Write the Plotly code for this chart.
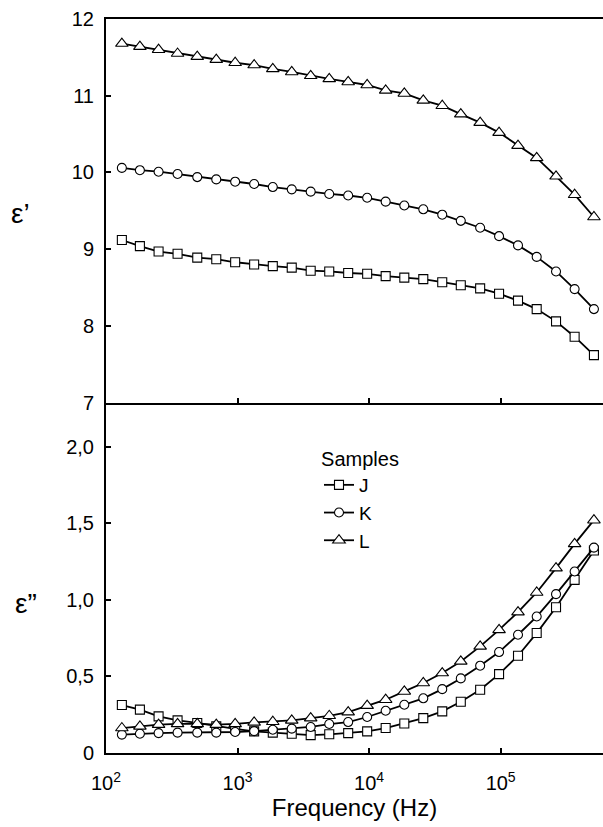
import plotly.graph_objects as go

# Frequencies (Hz)
freq = [132, 181, 251, 350, 494, 689, 959, 1337, 1853, 2582, 3597, 4977, 6934,
        9665, 13364, 18521, 25817, 35974, 49774, 69842, 97273, 135500, 187900,
        263600, 365000, 511700]

samples = ["J", "K", "L"]

# Real part epsilon'
eps1_J = [9.12, 9.04, 8.97, 8.94, 8.89, 8.87, 8.83, 8.80, 8.78, 8.76, 8.72, 8.71, 8.69,
          8.68, 8.65, 8.63, 8.61, 8.57, 8.53, 8.49, 8.42, 8.33, 8.22, 8.06, 7.86, 7.62]
eps1_K = [10.06, 10.03, 10.01, 9.98, 9.94, 9.91, 9.88, 9.85, 9.81, 9.78, 9.75, 9.72, 9.70,
          9.67, 9.62, 9.57, 9.52, 9.45, 9.37, 9.28, 9.17, 9.05, 8.90, 8.71, 8.48, 8.22]
eps1_L = [11.68, 11.64, 11.60, 11.55, 11.51, 11.47, 11.43, 11.40, 11.35, 11.31, 11.26, 11.22, 11.18,
          11.14, 11.07, 11.03, 10.94, 10.87, 10.76, 10.65, 10.52, 10.35, 10.19, 9.95, 9.71, 9.42]

# Imaginary part epsilon''
eps2_J = [0.313, 0.283, 0.239, 0.213, 0.196, 0.174, 0.157, 0.141, 0.133, 0.126, 0.117, 0.122, 0.130,
          0.141, 0.163, 0.193, 0.228, 0.272, 0.335, 0.413, 0.515, 0.635, 0.783, 0.952, 1.130, 1.322]
eps2_K = [0.120, 0.126, 0.130, 0.133, 0.133, 0.133, 0.137, 0.143, 0.152, 0.159, 0.170, 0.189, 0.202,
          0.235, 0.276, 0.315, 0.357, 0.417, 0.487, 0.570, 0.659, 0.772, 0.891, 1.037, 1.185, 1.341]
eps2_L = [0.163, 0.174, 0.185, 0.190, 0.190, 0.185, 0.190, 0.200, 0.204, 0.213, 0.228, 0.243, 0.267,
          0.309, 0.348, 0.402, 0.457, 0.522, 0.598, 0.696, 0.804, 0.920, 1.048, 1.207, 1.365, 1.520]

x_tickvals = [100, 1000, 10000, 100000]
x_ticktext = ["10<sup>2</sup>", "10<sup>3</sup>", "10<sup>4</sup>", "10<sup>5</sup>"]
y1_tickvals = [7, 8, 9, 10, 11, 12]
y2_tickvals = [0, 0.5, 1.0, 1.5, 2.0]
y2_ticktext = ["0", "0,5", "1,0", "1,5", "2,0"]

symbols = {"J": "square", "K": "circle", "L": "triangle-up"}
sizes = {"J": 9, "K": 9, "L": 11}

FONT = "Liberation Sans, Arial, sans-serif"

fig = go.Figure()
top = {"J": eps1_J, "K": eps1_K, "L": eps1_L}
bot = {"J": eps2_J, "K": eps2_K, "L": eps2_L}

for s in samples:
    fig.add_trace(go.Scatter(
        x=freq, y=top[s], mode="lines+markers", name=s, showlegend=False,
        xaxis="x2", yaxis="y2",
        line=dict(color="black", width=1.8),
        marker=dict(symbol=symbols[s], size=sizes[s], color="white",
                    line=dict(color="black", width=1.1)),
    ))
for s in samples:
    fig.add_trace(go.Scatter(
        x=freq, y=bot[s], mode="lines+markers", name=s, showlegend=True,
        xaxis="x", yaxis="y",
        line=dict(color="black", width=1.8),
        marker=dict(symbol=symbols[s], size=sizes[s], color="white",
                    line=dict(color="black", width=1.1)),
    ))

split = (753 - 402.7) / 734.0
xr = [2, 5.778]

axis_common = dict(showline=True, linecolor="black", linewidth=2,
                   ticks="inside", ticklen=5, tickwidth=1.5, tickcolor="black",
                   showgrid=False, zeroline=False,
                   tickfont=dict(family=FONT, size=20, color="black"))

fig.update_layout(
    width=603, height=827,
    margin=dict(l=106, r=0, t=19, b=74),
    paper_bgcolor="white", plot_bgcolor="white",
    font=dict(family=FONT, color="black"),
    xaxis=dict(type="log", range=xr, anchor="y", domain=[0, 1],
               tickvals=x_tickvals, ticktext=x_ticktext, ticklabelstandoff=11,
               title=dict(text="Frequency (Hz)", font=dict(family=FONT, size=24), standoff=2),
               **axis_common),
    xaxis2=dict(type="log", range=xr, anchor="y2", matches="x", domain=[0, 1],
                tickvals=x_tickvals, showticklabels=False, mirror=True,
                **axis_common),
    yaxis=dict(range=[0, 2.287], domain=[0, split], anchor="x",
               tickvals=y2_tickvals, ticktext=y2_ticktext, ticklabelstandoff=6,
               **axis_common),
    yaxis2=dict(range=[7, 12], domain=[split, 1], anchor="x2",
                tickvals=y1_tickvals, ticklabelstandoff=6,
                **axis_common),
    legend=dict(x=(319 - 106) / 497.0, xanchor="left", y=(753 - 440) / 734.0, yanchor="top",
                bgcolor="rgba(0,0,0,0)", font=dict(family=FONT, size=19),
                title=dict(text="Samples", side="top center", font=dict(family=FONT, size=20)),
                tracegroupgap=0, itemwidth=30),
    annotations=[
        dict(text="ε’", xref="paper", yref="paper", x=-86 / 497.0, y=(753 - 213) / 734.0,
             xanchor="center", yanchor="middle", showarrow=False,
             font=dict(family=FONT, size=28)),
        dict(text="ε”", xref="paper", yref="paper", x=-80 / 497.0, y=(753 - 603) / 734.0,
             xanchor="center", yanchor="middle", showarrow=False,
             font=dict(family=FONT, size=28)),
    ],
)

fig.write_html("out.html")
